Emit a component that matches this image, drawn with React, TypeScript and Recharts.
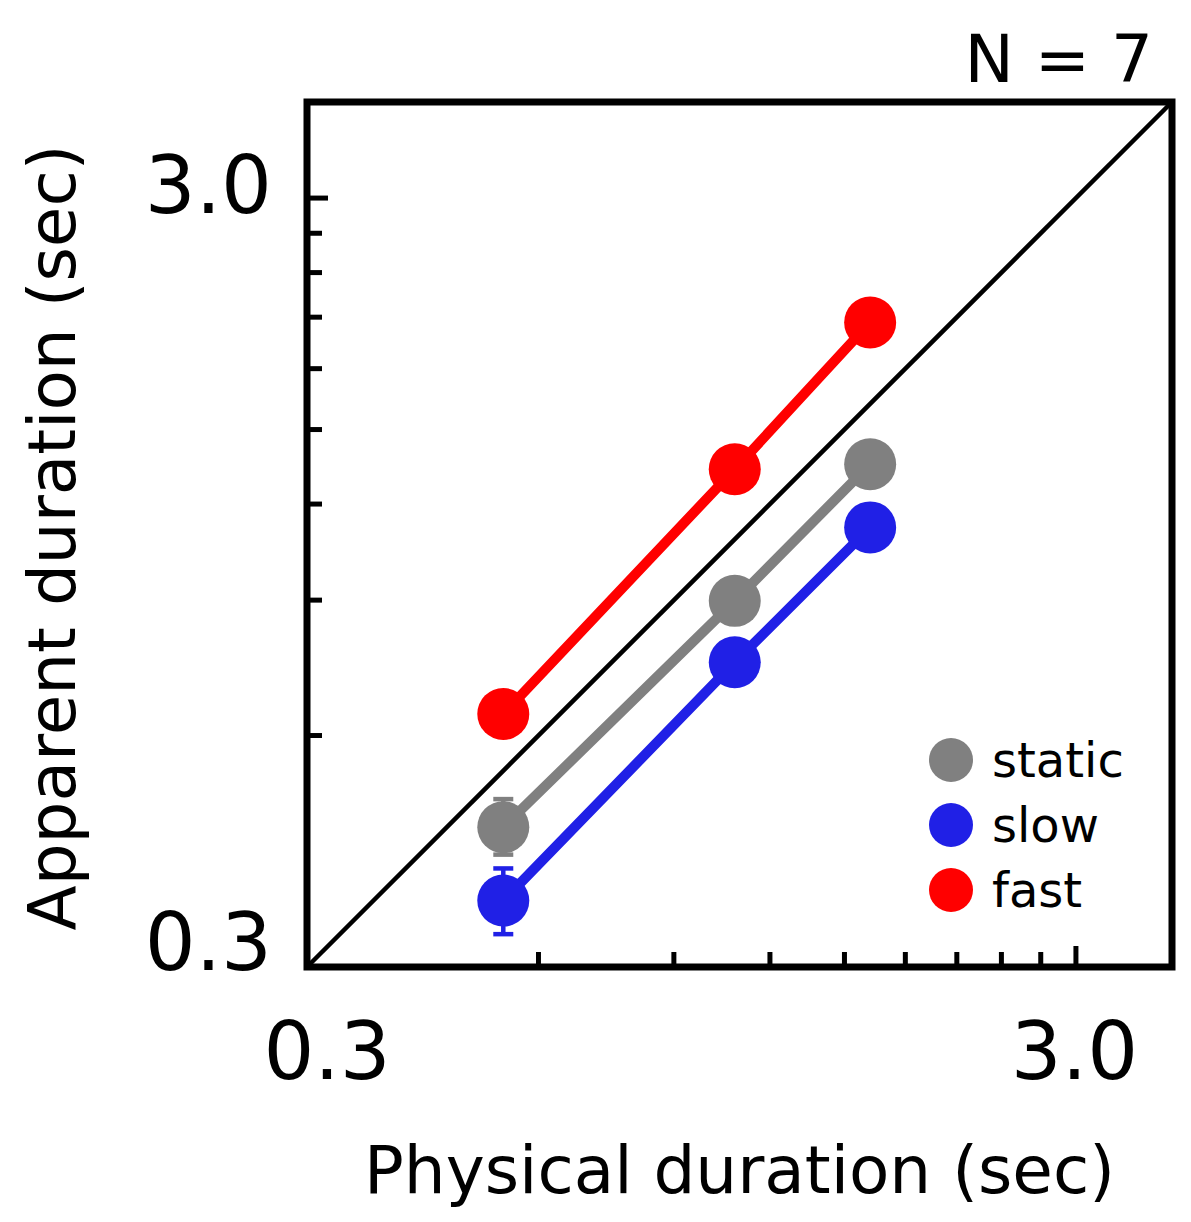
import React from 'react';
import {
	LineChart,
	Line,
	XAxis,
	YAxis,
	ErrorBar,
	ReferenceLine,
	ReferenceArea,
	Label
} from 'recharts';

// physical durations (sec) and mean apparent durations (sec)
const physical = [0.54, 1.08, 1.62];
const staticMean = [0.456, 0.898, 1.352];
const slowMean = [0.366, 0.747, 1.119];
const fastMean = [0.64, 1.332, 2.067];

// [below, above] error deltas
const staticErr = [[0.036, 0.04], [0.04, 0.04], [0.05, 0.05]];
const slowErr = [[0.035, 0.037], [0.03, 0.03], [0.05, 0.05]];
const fastErr = [[0.03, 0.03], [0.05, 0.05], [0.08, 0.08]];

const axisDomain = [0.3, 4];
const xTicks = [0.3, 0.6, 0.9, 1.2, 1.5, 1.8, 2.1, 2.4, 2.7, 3.0];
const yTicks = [0.3, 0.6, 0.9, 1.2, 1.5, 1.8, 2.1, 2.4, 2.7, 3.0];
const labeledTicks = [0.3, 3.0];

const legendItems = [
	{ name: 'static', key: 'static' },
	{ name: 'slow', key: 'slow' },
	{ name: 'fast', key: 'fast' }
];

const colors: Record<string, string> = {
	static: '#808080',
	slow: '#2020e6',
	fast: '#ff0000'
};

const font = '"DejaVu Sans", Verdana, sans-serif';

const data = physical.map((x, i) => ({
	x,
	static: staticMean[i],
	staticErr: staticErr[i],
	slow: slowMean[i],
	slowErr: slowErr[i],
	fast: fastMean[i],
	fastErr: fastErr[i]
}));

const fmt = (v: number) => v.toFixed(1);

const XTick = (props: any) => {
	const { x, y, payload } = props;
	const v = payload.value;
	const labeled = labeledTicks.includes(v);
	const dx = v === 0.3 ? 20 : -1.5;
	return (
		<g>
			{v !== 0.3 && (
				<line x1={x} x2={x} y1={y} y2={y - (labeled ? 21 : 15)} stroke="#000" strokeWidth={5} />
			)}
			{labeled && (
				<text x={x + dx} y={y + 112} textAnchor="middle" fontSize={80} fontFamily={font} fill="#000">
					{fmt(v)}
				</text>
			)}
		</g>
	);
};

const YTick = (props: any) => {
	const { x, y, payload } = props;
	const v = payload.value;
	const labeled = labeledTicks.includes(v);
	const dy = v === 0.3 ? 3 : 14.5;
	return (
		<g>
			{v !== 0.3 && (
				<line x1={x} x2={x + (labeled ? 21 : 15)} y1={y} y2={y} stroke="#000" strokeWidth={5} />
			)}
			{labeled && (
				<text x={x - 35} y={y + dy} textAnchor="end" fontSize={80} fontFamily={font} fill="#000">
					{fmt(v)}
				</text>
			)}
		</g>
	);
};

const XTitle = (props: any) => {
	const { viewBox } = props;
	return (
		<text
			x={viewBox.x + viewBox.width / 2}
			y={viewBox.y + 226}
			textAnchor="middle"
			fontSize={66}
			fontFamily={font}
			fill="#000"
		>
			Physical duration (sec)
		</text>
	);
};

const YTitle = (props: any) => {
	const { viewBox } = props;
	const cx = 67;
	const cy = viewBox.y + viewBox.height / 2 + 3;
	return (
		<text
			x={cx}
			y={cy}
			transform={`rotate(-90, ${cx}, ${cy})`}
			textAnchor="middle"
			fontSize={66}
			fontFamily={font}
			fill="#000"
		>
			Apparent duration (sec)
		</text>
	);
};

const App: React.FC = () => {
	return (
		<div style={{ position: 'relative', width: 1175, height: 1206, background: '#fff' }}>
			<LineChart
				width={1175}
				height={1206}
				data={data}
				margin={{ top: 94, right: 11, bottom: 0, left: 0 }}
			>
				<XAxis
					dataKey="x"
					type="number"
					scale="log"
					domain={axisDomain}
					allowDataOverflow
					ticks={xTicks}
					interval={0}
					axisLine={false}
					tickLine={false}
					tickSize={0}
					tickMargin={0}
					height={247}
					tick={<XTick />}
				>
					<Label content={<XTitle />} />
				</XAxis>
				<YAxis
					type="number"
					scale="log"
					domain={axisDomain}
					allowDataOverflow
					ticks={yTicks}
					interval={0}
					axisLine={false}
					tickLine={false}
					tickSize={0}
					tickMargin={0}
					width={299}
					tick={<YTick />}
				>
					<Label content={<YTitle />} />
				</YAxis>
				<ReferenceArea
					x1={axisDomain[0]}
					x2={axisDomain[1]}
					y1={axisDomain[0]}
					y2={axisDomain[1]}
					ifOverflow="visible"
					fill="none"
					fillOpacity={0}
					stroke="#000"
					strokeWidth={7}
				/>
				<ReferenceLine
					segment={[
						{ x: axisDomain[0], y: axisDomain[0] },
						{ x: axisDomain[1], y: axisDomain[1] }
					]}
					ifOverflow="visible"
					stroke="#000"
					strokeWidth={4.5}
				/>
				{['fast', 'static', 'slow'].map((k) => (
					<Line
						key={k}
						type="linear"
						dataKey={k}
						stroke={colors[k]}
						strokeWidth={10}
						dot={{ r: 26, fill: colors[k], stroke: colors[k], strokeWidth: 0 }}
						activeDot={false}
						isAnimationActive={false}
					>
						<ErrorBar dataKey={`${k}Err`} width={10} stroke={colors[k]} strokeWidth={4.5} direction="y" />
					</Line>
				))}
			</LineChart>
			<svg
				width={1175}
				height={1206}
				style={{ position: 'absolute', left: 0, top: 0, pointerEvents: 'none' }}
			>
				<text x={1145} y={74} textAnchor="end" fontSize={66} fontFamily={font} fill="#000">
					N = 7
				</text>
				{legendItems.map((item, i) => {
					const cy = 752 + i * 65;
					return (
						<g key={item.key}>
							<circle cx={943} cy={cy} r={22} fill={colors[item.key]} />
							<text x={984} y={cy + 17} fontSize={48} fontFamily={font} fill="#000">
								{item.name}
							</text>
						</g>
					);
				})}
			</svg>
		</div>
	);
};

export default App;
